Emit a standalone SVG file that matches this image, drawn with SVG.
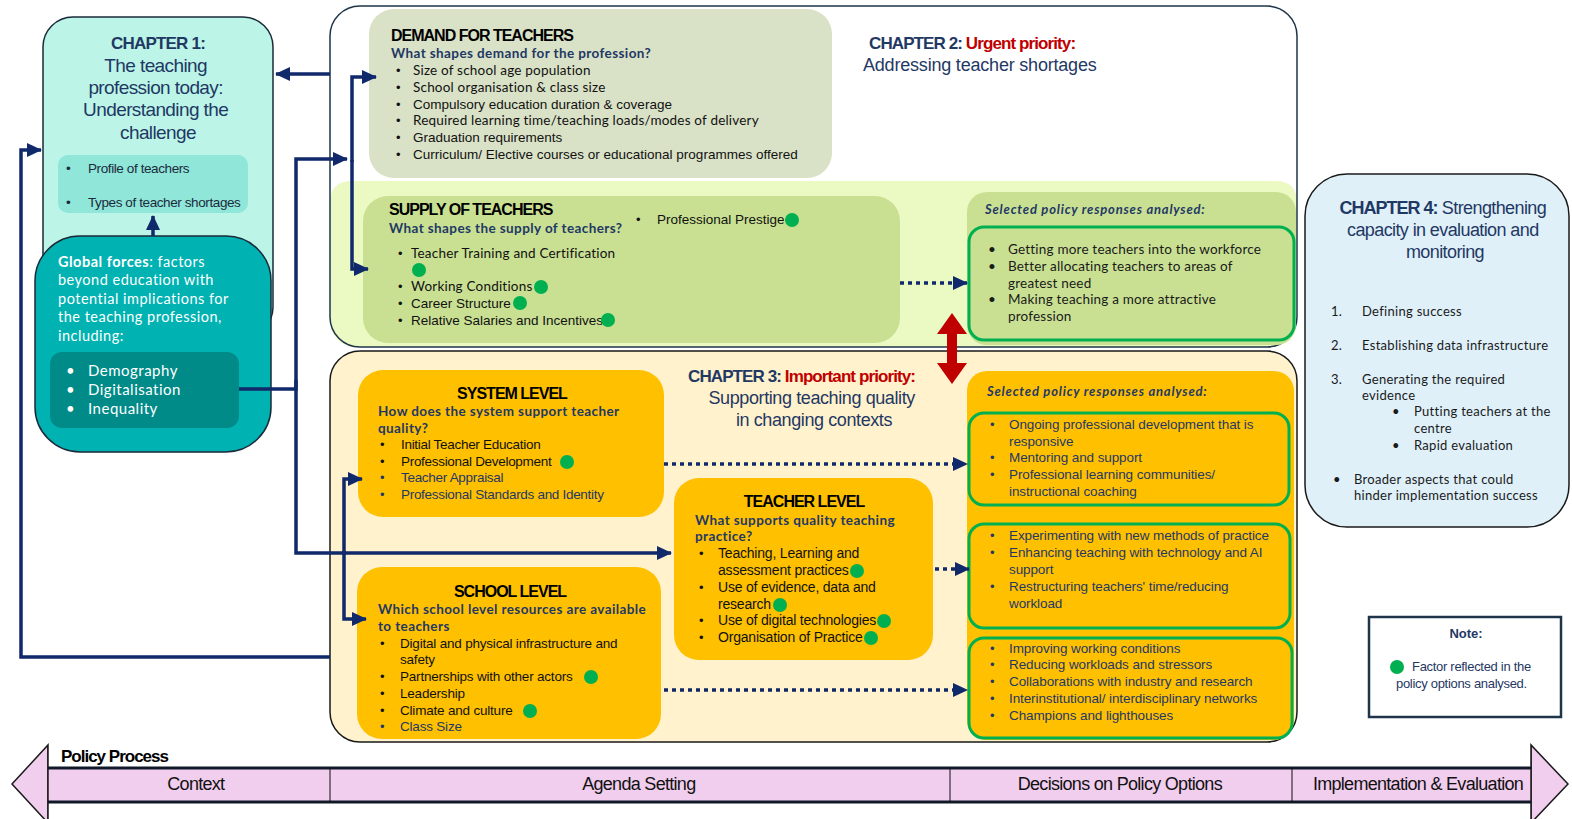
<svg xmlns="http://www.w3.org/2000/svg" width="1572" height="819" viewBox="0 0 1572 819">
<style>
.ar{font-family:"Liberation Sans",Arial,sans-serif}
.ca{font-family:Lato,"Open Sans",sans-serif}
.nv{fill:#1f3864}
.bk{fill:#111}
.rd{fill:#c00000}
.b{font-weight:bold}
.t16{font-size:16px;font-weight:bold;letter-spacing:-1px;fill:#000}
.q{font-weight:bold;font-size:13.5px;letter-spacing:0.4px;fill:#1f3864}
.it{font-size:13.5px}
.cb{font-size:13.5px;letter-spacing:0.2px}
.sel{font-size:13px;letter-spacing:0.8px;font-weight:bold;font-style:italic;fill:#1f3864}
.dot{fill:#00b050}
.conn{fill:none;stroke:#10296b;stroke-width:3.5}
.dash{fill:none;stroke:#10296b;stroke-width:3.5;stroke-dasharray:4 4}
.gbox{fill:none;stroke:#00b050;stroke-width:3}
</style>
<defs>
<marker id="ah" markerUnits="userSpaceOnUse" markerWidth="16" markerHeight="16" refX="14" refY="8" orient="auto">
<path d="M0,1 L15,8 L0,15 Z" fill="#10296b"/>
</marker>
</defs>

<!-- Chapter 1 -->
<g id="chapter1">
<rect x="43" y="17" width="230" height="320" rx="30" fill="#bcf5e7" stroke="#1a2a3a" stroke-width="1.5"/>
<text x="158" y="49" text-anchor="middle" class="ar b nv" font-size="17" letter-spacing="-0.8">CHAPTER 1:</text>
<text class="ar nv" font-size="19" letter-spacing="-0.6" text-anchor="middle">
<tspan x="158" y="72">The teaching</tspan>
<tspan x="158" y="94">profession today:</tspan>
<tspan x="158" y="116">Understanding the</tspan>
<tspan x="158" y="139">challenge</tspan>
</text>
<rect x="58" y="155" width="190" height="58" rx="10" fill="#8fe6d9"/>
<text class="ar" font-size="13.5" letter-spacing="-0.4" fill="#1b2b3b">
<tspan x="66" y="173">•</tspan><tspan x="88" y="173">Profile of teachers</tspan>
<tspan x="66" y="207">•</tspan><tspan x="88" y="207">Types of teacher shortages</tspan>
</text>
</g>

<!-- Global forces -->
<g id="global-forces">
<rect x="35" y="236" width="236" height="216" rx="45" fill="#00b2b2" stroke="#1a2a3a" stroke-width="1.5"/>
<text class="ca" font-size="14.5" letter-spacing="0.5" fill="#fff">
<tspan x="58" y="267" font-weight="bold">Global forces</tspan><tspan>:  factors</tspan>
<tspan x="58" y="285">beyond education with</tspan>
<tspan x="58" y="304">potential implications for</tspan>
<tspan x="58" y="322">the teaching profession,</tspan>
<tspan x="58" y="341">including:</tspan>
</text>
<rect x="50" y="352" width="189" height="76" rx="12" fill="#008b89"/>
<text class="ca" font-size="15" letter-spacing="0.5" fill="#fff">
<tspan x="66" y="376">•</tspan><tspan x="88" y="376">Demography</tspan>
<tspan x="66" y="395">•</tspan><tspan x="88" y="395">Digitalisation</tspan>
<tspan x="66" y="414">•</tspan><tspan x="88" y="414">Inequality</tspan>
</text>
</g>

<!-- Chapter 2 -->
<g id="chapter2">
<rect x="330" y="6" width="967" height="341" rx="30" fill="#fff"/>
<path d="M330,203 Q330,181 352,181 H1275 Q1297,181 1297,203 V317 Q1297,347 1267,347 H360 Q330,347 330,317 Z" fill="#ebf9c3"/>
<rect x="330" y="6" width="967" height="341" rx="30" fill="none" stroke="#1e3448" stroke-width="1.5"/>
<text x="869" y="49" class="ar b" font-size="17" letter-spacing="-0.9"><tspan class="nv">CHAPTER 2: </tspan><tspan class="rd">Urgent priority:</tspan></text>
<text x="863" y="71" class="ar nv" font-size="18" letter-spacing="-0.2">Addressing teacher shortages</text>
</g>

<g id="demand">
<rect x="369" y="9" width="463" height="169" rx="25" fill="#d9e2c6"/>
<text x="391" y="41" class="ar t16">DEMAND FOR TEACHERS</text>
<text x="391" y="58" class="ca q">What shapes demand for the profession?</text>
<g class="bk">
<text class="ar" font-size="13"><tspan x="396" y="75">•</tspan><tspan x="396" y="92">•</tspan><tspan x="396" y="109">•</tspan><tspan x="396" y="125">•</tspan><tspan x="396" y="142">•</tspan><tspan x="396" y="159">•</tspan></text>
<text class="ca cb"><tspan x="413" y="75">Size of school age population</tspan><tspan x="413" y="92">School organisation &amp; class size</tspan><tspan x="413" y="125">Required learning time/teaching loads/modes of delivery</tspan></text>
<text class="ar it"><tspan x="413" y="109">Compulsory education duration &amp; coverage</tspan><tspan x="413" y="142">Graduation requirements</tspan><tspan x="413" y="159">Curriculum/ Elective courses or educational programmes offered</tspan></text>
</g>
</g>

<g id="supply">
<rect x="363" y="196" width="537" height="147" rx="25" fill="#c9e093"/>
<text x="389" y="215" class="ar t16">SUPPLY OF TEACHERS</text>
<text x="389" y="233" class="ca q">What shapes the supply of teachers?</text>
<g class="bk">
<text class="ar" font-size="13"><tspan x="636" y="224">•</tspan><tspan x="398" y="258">•</tspan><tspan x="398" y="291">•</tspan><tspan x="398" y="308">•</tspan><tspan x="398" y="325">•</tspan></text>
<text x="657" y="224" class="ar it">Professional Prestige</text>
<text class="ca cb"><tspan x="411" y="258">Teacher Training and Certification</tspan><tspan x="411" y="291">Working Conditions</tspan></text>
<text class="ar it"><tspan x="411" y="308">Career Structure</tspan><tspan x="411" y="325">Relative Salaries and Incentives</tspan></text>
</g>
<circle cx="792" cy="220" r="7" class="dot"/>
<circle cx="419" cy="270" r="7" class="dot"/>
<circle cx="541" cy="287" r="7" class="dot"/>
<circle cx="520" cy="303" r="7" class="dot"/>
<circle cx="608" cy="320" r="7" class="dot"/>
</g>

<g id="policy-responses-ch2">
<rect x="967" y="192" width="329" height="153" rx="20" fill="#c9e093"/>
<text x="985" y="214" class="ca sel">Selected policy responses analysed:</text>
<rect x="969" y="227" width="325" height="113" rx="15" class="gbox"/>
<text class="ca cb" fill="#1a1a1a">
<tspan x="988" y="254">•</tspan><tspan x="1008" y="254">Getting more teachers into the workforce</tspan>
<tspan x="988" y="271">•</tspan><tspan x="1008" y="271">Better allocating teachers to areas of</tspan>
<tspan x="1008" y="288">greatest need</tspan>
<tspan x="988" y="304">•</tspan><tspan x="1008" y="304">Making teaching a more attractive</tspan>
<tspan x="1008" y="321">profession</tspan>
</text>
</g>

<!-- Chapter 3 -->
<g id="chapter3">
<rect x="330" y="351" width="967" height="391" rx="30" fill="#fff2cc" stroke="#1a1a1a" stroke-width="1.5"/>
<text x="688" y="382" class="ar b" font-size="17" letter-spacing="-0.9"><tspan class="nv">CHAPTER 3: </tspan><tspan class="rd">Important priority:</tspan></text>
<text class="ar nv" font-size="18" letter-spacing="-0.4" text-anchor="middle">
<tspan x="814" y="404">Supporting teaching quality</tspan>
<tspan x="814" y="426">in changing contexts</tspan>
</text>
</g>

<g id="system-level">
<rect x="358" y="370" width="306" height="147" rx="25" fill="#ffc000"/>
<text x="512" y="399" text-anchor="middle" class="ar t16">SYSTEM LEVEL</text>
<text class="ca q"><tspan x="378" y="416">How does the system support teacher</tspan><tspan x="378" y="433">quality?</tspan></text>
<text class="ar" font-size="13"><tspan x="380" y="449" class="bk">•</tspan><tspan x="380" y="466" class="bk">•</tspan><tspan x="380" y="482" class="nv">•</tspan><tspan x="380" y="499" class="nv">•</tspan></text>
<text class="ar it" letter-spacing="-0.3"><tspan x="401" y="449" class="bk">Initial Teacher Education</tspan><tspan x="401" y="466" class="bk">Professional Development</tspan><tspan x="401" y="482" class="nv">Teacher Appraisal</tspan><tspan x="401" y="499" class="nv">Professional Standards and Identity</tspan></text>
<circle cx="567" cy="462" r="7" class="dot"/>
</g>

<g id="teacher-level">
<rect x="674" y="478" width="259" height="182" rx="25" fill="#ffc000"/>
<text x="804" y="507" text-anchor="middle" class="ar t16">TEACHER LEVEL</text>
<text class="ca q"><tspan x="695" y="525">What supports quality teaching</tspan><tspan x="695" y="541">practice?</tspan></text>
<g class="bk">
<text class="ar" font-size="13"><tspan x="699" y="558">•</tspan><tspan x="699" y="592">•</tspan><tspan x="699" y="625">•</tspan><tspan x="699" y="642">•</tspan></text>
<text class="ar" font-size="14" letter-spacing="-0.2"><tspan x="718" y="558">Teaching, Learning  and</tspan><tspan x="718" y="575">assessment practices</tspan><tspan x="718" y="592">Use of evidence, data and</tspan><tspan x="718" y="609">research</tspan><tspan x="718" y="625">Use of digital technologies</tspan><tspan x="718" y="642">Organisation of Practice</tspan></text>
</g>
<circle cx="857" cy="571" r="7" class="dot"/>
<circle cx="780" cy="605" r="7" class="dot"/>
<circle cx="884" cy="621" r="7" class="dot"/>
<circle cx="871" cy="638" r="7" class="dot"/>
</g>

<g id="school-level">
<rect x="357" y="567" width="304" height="172" rx="25" fill="#ffc000"/>
<text x="510" y="597" text-anchor="middle" class="ar t16">SCHOOL LEVEL</text>
<text class="ca q"><tspan x="378" y="614">Which school level resources are available</tspan><tspan x="378" y="631">to teachers</tspan></text>
<text class="ar" font-size="13"><tspan x="380" y="648" class="bk">•</tspan><tspan x="380" y="681" class="bk">•</tspan><tspan x="380" y="698" class="bk">•</tspan><tspan x="380" y="715" class="bk">•</tspan><tspan x="380" y="731" class="nv">•</tspan></text>
<text class="ar it" letter-spacing="-0.2"><tspan x="400" y="648" class="bk">Digital and physical infrastructure and</tspan><tspan x="400" y="664" class="bk">safety</tspan><tspan x="400" y="681" class="bk">Partnerships with other actors</tspan><tspan x="400" y="698" class="bk">Leadership</tspan><tspan x="400" y="715" class="bk">Climate and culture</tspan><tspan x="400" y="731" class="nv">Class Size</tspan></text>
<circle cx="591" cy="677" r="7" class="dot"/>
<circle cx="530" cy="711" r="7" class="dot"/>
</g>

<g id="policy-responses-ch3">
<rect x="967" y="371" width="327" height="369" rx="20" fill="#ffc000"/>
<text x="987" y="396" class="ca sel">Selected policy responses analysed:</text>
<rect x="969" y="413" width="320" height="92" rx="15" class="gbox"/>
<rect x="969" y="524" width="321" height="104" rx="15" class="gbox"/>
<rect x="969" y="638" width="323" height="100" rx="15" class="gbox"/>
<text class="ar nv" font-size="13"><tspan x="990" y="429">•</tspan><tspan x="990" y="462">•</tspan><tspan x="990" y="479">•</tspan><tspan x="990" y="540">•</tspan><tspan x="990" y="557">•</tspan><tspan x="990" y="591">•</tspan><tspan x="990" y="653">•</tspan><tspan x="990" y="669">•</tspan><tspan x="990" y="686">•</tspan><tspan x="990" y="703">•</tspan><tspan x="990" y="720">•</tspan></text>
<text class="ar nv it" letter-spacing="-0.1">
<tspan x="1009" y="429">Ongoing professional development that is</tspan>
<tspan x="1009" y="446">responsive</tspan>
<tspan x="1009" y="462">Mentoring and support</tspan>
<tspan x="1009" y="479">Professional learning communities/</tspan>
<tspan x="1009" y="496">instructional coaching</tspan>
<tspan x="1009" y="540">Experimenting with new methods of practice</tspan>
<tspan x="1009" y="557">Enhancing teaching with technology and AI</tspan>
<tspan x="1009" y="574">support</tspan>
<tspan x="1009" y="591">Restructuring teachers' time/reducing</tspan>
<tspan x="1009" y="608">workload</tspan>
<tspan x="1009" y="653">Improving working conditions</tspan>
<tspan x="1009" y="669">Reducing workloads and stressors</tspan>
<tspan x="1009" y="686">Collaborations with industry and research</tspan>
<tspan x="1009" y="703">Interinstitutional/  interdisciplinary networks</tspan>
<tspan x="1009" y="720">Champions and lighthouses</tspan>
</text>
</g>

<!-- Red double arrow between chapters 2 and 3 -->
<g id="priority-arrow">
<polygon points="952,313 967,334 957,334 957,363 967,363 952,384 937,363 947,363 947,334 937,334" fill="#c00000"/>
</g>

<!-- Chapter 4 -->
<g id="chapter4">
<rect x="1305" y="174" width="264" height="353" rx="42" fill="#dff0f9" stroke="#1a1a1a" stroke-width="1.5"/>
<text class="ar nv" font-size="18" letter-spacing="-0.6" text-anchor="middle">
<tspan x="1445" y="214"><tspan font-weight="bold" letter-spacing="-1">CHAPTER 4:</tspan> Strengthening</tspan>
<tspan x="1445" y="236">capacity in evaluation and</tspan>
<tspan x="1445" y="258">monitoring</tspan>
</text>
<text class="ca" font-size="13" letter-spacing="0.3" fill="#1a1a1a">
<tspan x="1331" y="316">1.</tspan><tspan x="1362" y="316">Defining success</tspan>
<tspan x="1331" y="350">2.</tspan><tspan x="1362" y="350">Establishing data infrastructure</tspan>
<tspan x="1331" y="384">3.</tspan><tspan x="1362" y="384">Generating the required</tspan>
<tspan x="1362" y="400">evidence</tspan>
<tspan x="1392" y="416">•</tspan><tspan x="1414" y="416">Putting teachers at the</tspan>
<tspan x="1414" y="433">centre</tspan>
<tspan x="1392" y="450">•</tspan><tspan x="1414" y="450">Rapid evaluation</tspan>
<tspan x="1333" y="484">•</tspan><tspan x="1354" y="484">Broader aspects that could</tspan>
<tspan x="1354" y="500">hinder implementation success</tspan>
</text>
</g>

<!-- Note -->
<g id="note">
<rect x="1369" y="617" width="192" height="100" fill="#fff" stroke="#1e3448" stroke-width="2.5"/>
<text x="1466" y="638" text-anchor="middle" class="ar b nv" font-size="13">Note:</text>
<circle cx="1397" cy="667" r="7" class="dot"/>
<text class="ar nv" font-size="13" letter-spacing="-0.3"><tspan x="1412" y="671">Factor reflected in the</tspan><tspan x="1396" y="688">policy options analysed.</tspan></text>
</g>

<!-- Connectors -->
<g id="connectors">
<path class="conn" d="M330,74 H276" marker-end="url(#ah)"/>
<path class="conn" d="M153,236 V216" marker-end="url(#ah)"/>
<path class="conn" d="M330,657 H21 V150 H41" marker-end="url(#ah)"/>
<path class="conn" d="M239,389 H296 V159 H347" marker-end="url(#ah)"/>
<path class="conn" d="M296,380 V553 H671" marker-end="url(#ah)"/>
<path class="conn" d="M352,162 V77 H376" marker-end="url(#ah)"/>
<path class="conn" d="M352,160 V269 H368" marker-end="url(#ah)"/>
<path class="conn" d="M344,555 V479 H362" marker-end="url(#ah)"/>
<path class="conn" d="M344,551 V619 H366" marker-end="url(#ah)"/>
<path class="dash" d="M900,283 H967" marker-end="url(#ah)"/>
<path class="dash" d="M664,464 H967" marker-end="url(#ah)"/>
<path class="dash" d="M935,569 H969" marker-end="url(#ah)"/>
<path class="dash" d="M664,690 H967" marker-end="url(#ah)"/>
</g>

<!-- Policy process arrow -->
<g id="policy-process">
<polygon points="12,784 48,745 48,823" fill="#f1cdee" stroke="#1a1a1a" stroke-width="1.5"/>
<polygon points="1568,784 1531,745 1531,823" fill="#f1cdee" stroke="#1a1a1a" stroke-width="1.5"/>
<rect x="48" y="745" width="1483" height="74" fill="#fff"/>
<rect x="48" y="768" width="1483" height="34" fill="#f1cdee"/>
<line x1="48" y1="745" x2="48" y2="819" stroke="#1a1a1a" stroke-width="1.5"/>
<line x1="1531" y1="745" x2="1531" y2="819" stroke="#1a1a1a" stroke-width="1.5"/>
<line x1="48" y1="768" x2="1531" y2="768" stroke="#111827" stroke-width="3"/>
<line x1="48" y1="802" x2="1531" y2="802" stroke="#111827" stroke-width="3"/>
<line x1="330" y1="768" x2="330" y2="802" stroke="#111" stroke-width="1"/>
<line x1="950" y1="768" x2="950" y2="802" stroke="#111" stroke-width="1"/>
<line x1="1292" y1="768" x2="1292" y2="802" stroke="#111" stroke-width="1"/>
<text x="61" y="762" class="ar b" font-size="17" letter-spacing="-1" fill="#000">Policy Process</text>
<text class="ar" font-size="18" letter-spacing="-0.7" fill="#111" text-anchor="middle">
<tspan x="198" y="790">Context</tspan>
<tspan x="641" y="790">Agenda Setting</tspan>
<tspan x="1122" y="790">Decisions on Policy Options</tspan>
<tspan x="1418" y="790">Implementation &amp; Evaluation</tspan>
</text>
</g>
</svg>
